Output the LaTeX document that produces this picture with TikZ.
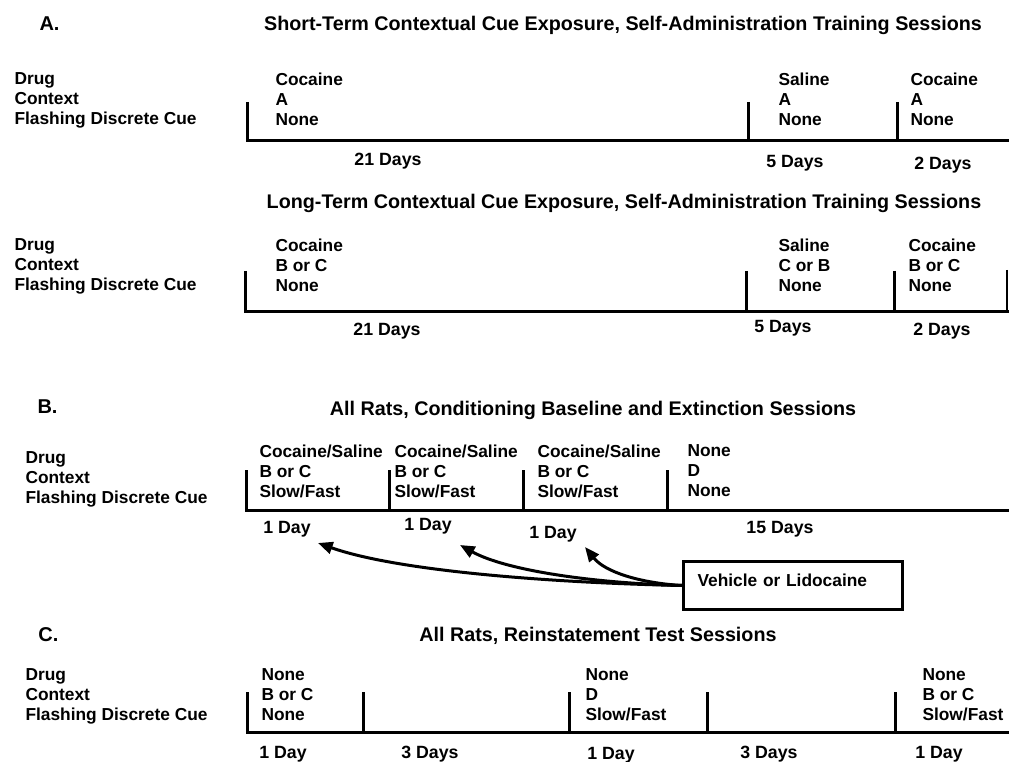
\documentclass[tikz,border=0pt]{standalone}
\usepackage{fontspec}
\setmainfont{Liberation Sans}
\usetikzlibrary{arrows.meta}

\tikzset{every picture/.style={line width=2.25pt}}
\tikzset{
  txt/.style={inner sep=0pt, align=left, anchor=north west, font=\bfseries\fontsize{13}{15}\selectfont},
  ttl/.style={inner sep=0pt, anchor=north, font=\bfseries\fontsize{14.8}{16}\selectfont},
  panel/.style={inner sep=0pt, anchor=north west, font=\bfseries\fontsize{15}{16}\selectfont},
  dayslbl/.style={inner sep=0pt, anchor=north, font=\bfseries\fontsize{13.3}{15}\selectfont},
  tline/.style={line width=2.25pt, line join=miter},
  injarrow/.style={line width=2.25pt, -{Triangle[length=11pt,width=9pt]}}
}

\begin{document}
\begin{tikzpicture}[x=0.75pt,y=0.75pt,yscale=-1,xscale=1]
\useasboundingbox (0,0) rectangle (1009,762);

%%%%%%%%%%%%%%%% Panel A, short-term
% Text Node
\node [panel] (pA) at (38,15) {A.};
% Text Node
\node [ttl] (tA1) at (623,15) {Short-Term Contextual Cue Exposure, Self-Administration Training Sessions};
% Text Node
\node [txt] (rowsA1) at (13,71) {Drug\\Context\\Flashing Discrete Cue};

%Straight Lines
\draw [tline] (247,102) -- (247,141) -- (1009,141) ;
\draw [tline] (748,102) -- (748,141) ;
\draw [tline] (897,102) -- (897,141) ;

% Text Node
\node [txt] (a1s1) at (274,71) {Cocaine\\A\\None};
% Text Node
\node [txt] (a1s2) at (777,71) {Saline\\A\\None};
% Text Node
\node [txt] (a1s3) at (909,71) {Cocaine\\A\\None};

% Text Node
\node [dayslbl] (a1d1) at (388,152) {21 Days};
% Text Node
\node [dayslbl] (a1d2) at (795,154) {5 Days};
% Text Node
\node [dayslbl] (a1d3) at (943,156) {2 Days};

%%%%%%%%%%%%%%%% Panel A, long-term
% Text Node
\node [ttl] (tA2) at (624,193) {Long-Term Contextual Cue Exposure, Self-Administration Training Sessions};
% Text Node
\node [txt] (rowsA2) at (13,237) {Drug\\Context\\Flashing Discrete Cue};

%Straight Lines
\draw [tline] (245,271) -- (245,312) -- (1009,312) ;
\draw [tline] (746,271) -- (746,312) ;
\draw [tline] (894,271) -- (894,312) ;
\draw [line width=1.2pt] (1007,270) -- (1007,312) ;

% Text Node
\node [txt] (a2s1) at (274,237) {Cocaine\\B or C\\None};
% Text Node
\node [txt] (a2s2) at (777,237) {Saline\\C or B\\None};
% Text Node
\node [txt] (a2s3) at (907,237) {Cocaine\\B or C\\None};

% Text Node
\node [dayslbl] (a2d1) at (387,322) {21 Days};
% Text Node
\node [dayslbl] (a2d2) at (783,319) {5 Days};
% Text Node
\node [dayslbl] (a2d3) at (942,322) {2 Days};

%%%%%%%%%%%%%%%% Panel B
% Text Node
\node [panel] (pB) at (36,398) {B.};
% Text Node
\node [ttl] (tB) at (593,400) {All Rats, Conditioning Baseline and Extinction Sessions};
% Text Node
\node [txt] (rowsB) at (24,450) {Drug\\Context\\Flashing Discrete Cue};

%Straight Lines
\draw [tline] (246,470) -- (246,510) -- (1009,510) ;
\draw [tline] (389,470) -- (389,510) ;
\draw [tline] (523,470) -- (523,510) ;
\draw [tline] (667,470) -- (667,510) ;

% Text Node
\node [txt] (bs1) at (258,443) {Cocaine/Saline\\B or C\\Slow/Fast};
% Text Node
\node [txt] (bs2) at (393,443) {Cocaine/Saline\\B or C\\Slow/Fast};
% Text Node
\node [txt] (bs3) at (536,443) {Cocaine/Saline\\B or C\\Slow/Fast};
% Text Node
\node [txt] (bs4) at (686,443) {None\\D\\None};

% Text Node
\node [dayslbl] (bd1) at (287,520) {1 Day};
% Text Node
\node [dayslbl] (bd2) at (428,517) {1 Day};
% Text Node
\node [dayslbl] (bd3) at (553,525) {1 Day};
% Text Node
\node [dayslbl] (bd4) at (780,520) {15 Days};

%Shape: Rectangle
\node [draw, line width=2.25pt, anchor=north west, minimum height=36pt, text width=143pt, text depth=8pt, inner xsep=10.5pt, inner ysep=0pt, align=left, font=\bfseries\fontsize{13}{15}\selectfont] (vehicle) at (682,560) {Vehicle or Lidocaine};

\coordinate (tip1) at (318,543);
\coordinate (tip2) at (460,545);
\coordinate (tip3) at (585,547);

%Curve Lines
\draw [injarrow] (vehicle.west) .. controls (560,583) and (400,572) .. (tip1) ;
\draw [injarrow] (vehicle.west) .. controls (590,583) and (505,570) .. (tip2) ;
\draw [injarrow] (vehicle.west) .. controls (640,583) and (605,572) .. (tip3) ;

%%%%%%%%%%%%%%%% Panel C
% Text Node
\node [panel] (pC) at (37,626) {C.};
% Text Node
\node [ttl] (tC) at (598,626) {All Rats, Reinstatement Test Sessions};
% Text Node
\node [txt] (rowsC) at (24,667) {Drug\\Context\\Flashing Discrete Cue};

%Straight Lines
\draw [tline] (247,692) -- (247,732) -- (1009,732) ;
\draw [tline] (363,692) -- (363,732) ;
\draw [tline] (569,692) -- (569,732) ;
\draw [tline] (707,692) -- (707,732) ;
\draw [tline] (895,692) -- (895,732) ;

% Text Node
\node [txt] (cs1) at (260,667) {None\\B or C\\None};
% Text Node
\node [txt] (cs2) at (584,667) {None\\D\\Slow/Fast};
% Text Node
\node [txt] (cs3) at (921,667) {None\\B or C\\Slow/Fast};

% Text Node
\node [dayslbl] (cd1) at (283,745) {1 Day};
% Text Node
\node [dayslbl] (cd2) at (430,745) {3 Days};
% Text Node
\node [dayslbl] (cd3) at (611,746) {1 Day};
% Text Node
\node [dayslbl] (cd4) at (769,745) {3 Days};
% Text Node
\node [dayslbl] (cd5) at (939,745) {1 Day};

\end{tikzpicture}
\end{document}
